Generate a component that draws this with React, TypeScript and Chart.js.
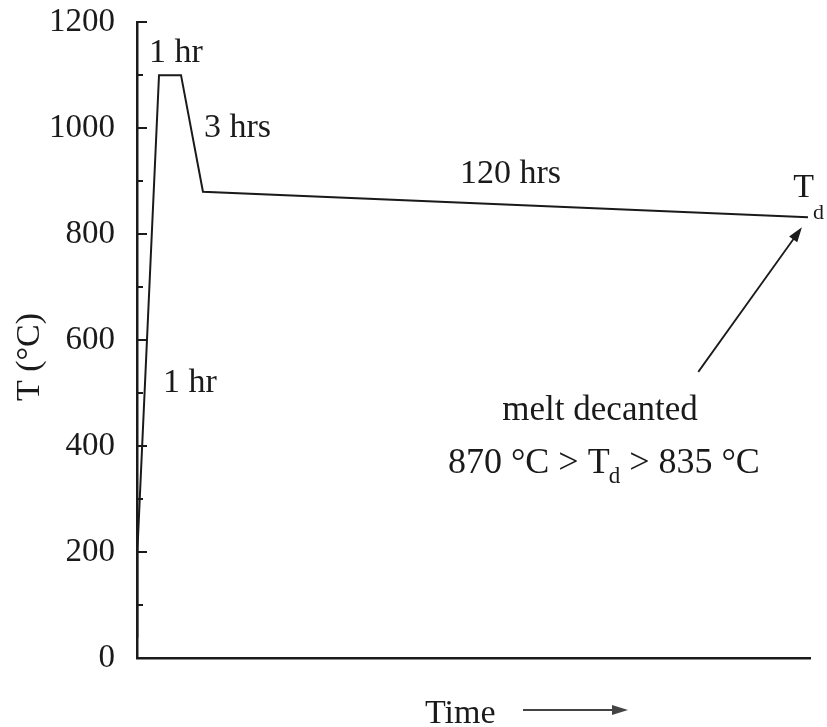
import React, { useEffect, useRef } from "react";
import { Chart, registerables } from "chart.js";

Chart.register(...registerables);

// Time axis in arbitrary units (0..100), temperature in °C
const timePoints = [0, 0.05, 3.27, 6.54, 9.8, 99.7];
const tempPoints = [40, 200, 1100, 1100, 880, 832];

const yMin = 0;
const yMax = 1200;
const yMajorStep = 200;
const yMinorStep = 100;
const xMin = 0;
const xMax = 100;

const FONT = "'Liberation Serif', 'Times New Roman', serif";
const INK = "#1a1a1a";

export default function App() {
  const ref = useRef<HTMLCanvasElement | null>(null);

  useEffect(() => {
    const canvas = ref.current;
    if (!canvas) return;

    const annotate = {
      id: "annotate",
      afterDraw(chart: any) {
        const ctx = chart.ctx as CanvasRenderingContext2D;
        const xs = chart.scales.x;
        const ys = chart.scales.y;
        const px = (v: number) => xs.getPixelForValue(v);
        const py = (v: number) => ys.getPixelForValue(v);
        const area = chart.chartArea;
        ctx.save();
        // inward ticks on y axis
        ctx.strokeStyle = INK;
        ctx.lineWidth = 2;
        for (let v = yMin; v <= yMax; v += yMinorStep) {
          const major = v % yMajorStep === 0;
          const y = Math.round(py(v));
          ctx.beginPath();
          ctx.moveTo(area.left, y);
          ctx.lineTo(area.left + (major ? 10 : 6), y);
          ctx.stroke();
        }

        ctx.fillStyle = INK;
        ctx.textBaseline = "alphabetic";
        ctx.textAlign = "left";
        ctx.font = `34px ${FONT}`;
        ctx.fillText("1 hr", px(1.78), py(1124));
        ctx.fillText("3 hrs", px(9.96), py(983));
        ctx.fillText("120 hrs", px(48.0), py(896));
        ctx.fillText("1 hr", px(3.86), py(502));

        // T_d label at end of line
        const tx = px(97.5);
        ctx.fillText("T", tx, py(870));
        const tw = ctx.measureText("T").width;
        ctx.font = `22px ${FONT}`;
        ctx.fillText("d", tx + tw - 1, py(870) + 22);

        // melt decanted
        ctx.font = `35px ${FONT}`;
        ctx.textAlign = "center";
        ctx.fillText("melt decanted", px(68.8), py(449));

        // 870 °C > Td > 835 °C
        ctx.textAlign = "left";
        let cx = px(46.2);
        const by = py(349);
        ctx.font = `36px ${FONT}`;
        const s1 = "870 °C > T";
        ctx.fillText(s1, cx, by);
        cx += ctx.measureText(s1).width;
        ctx.font = `23px ${FONT}`;
        ctx.fillText("d", cx - 1, by + 10);
        cx += ctx.measureText("d").width - 1;
        ctx.font = `36px ${FONT}`;
        ctx.fillText(" > 835 °C", cx, by);

        // arrow to T_d
        const ax0 = px(83.4), ay0 = py(540);
        const ax1 = px(98.8), ay1 = py(813);
        const ang = Math.atan2(ay1 - ay0, ax1 - ax0);
        const hl = 15, hw = 5;
        ctx.lineWidth = 1.8;
        ctx.beginPath();
        ctx.moveTo(ax0, ay0);
        ctx.lineTo(ax1 - Math.cos(ang) * hl * 0.8, ay1 - Math.sin(ang) * hl * 0.8);
        ctx.stroke();
        ctx.beginPath();
        ctx.moveTo(ax1, ay1);
        ctx.lineTo(ax1 - Math.cos(ang) * hl - Math.sin(ang) * hw, ay1 - Math.sin(ang) * hl + Math.cos(ang) * hw);
        ctx.lineTo(ax1 - Math.cos(ang) * hl + Math.sin(ang) * hw, ay1 - Math.sin(ang) * hl - Math.cos(ang) * hw);
        ctx.closePath();
        ctx.fill();

        // x axis title "Time" with arrow
        ctx.font = `34px ${FONT}`;
        ctx.textAlign = "left";
        ctx.fillText("Time", 425, 723);
        ctx.strokeStyle = "#444";
        ctx.fillStyle = "#444";
        ctx.lineWidth = 2;
        ctx.beginPath();
        ctx.moveTo(523, 710);
        ctx.lineTo(615, 710);
        ctx.stroke();
        ctx.beginPath();
        ctx.moveTo(628, 710);
        ctx.lineTo(612, 705);
        ctx.lineTo(612, 715);
        ctx.closePath();
        ctx.fill();

        // y axis title
        ctx.fillStyle = INK;
        ctx.translate(30, 357);
        ctx.rotate(-Math.PI / 2);
        ctx.textAlign = "center";
        ctx.textBaseline = "middle";
        ctx.font = `34px ${FONT}`;
        ctx.fillText("T (°C)", 0, 0);
        ctx.restore();
      },
    };

    const chart = new Chart(canvas, {
      type: "line",
      data: {
        datasets: [
          {
            data: timePoints.map((x, i) => ({ x, y: tempPoints[i] })),
            borderColor: INK,
            borderWidth: 2,
            pointRadius: 0,
            tension: 0,
            fill: false,
          },
        ],
      },
      options: {
        responsive: false,
        animation: false,
        layout: { padding: { top: 0, right: 17, left: 0, bottom: 0 } },
        plugins: { legend: { display: false }, tooltip: { enabled: false } },
        scales: {
          x: {
            type: "linear",
            min: xMin,
            max: xMax,
            grid: { display: false, drawTicks: false },
            ticks: { display: false },
            border: { display: true, color: INK, width: 2.5 },
            afterFit: (s: any) => {
              s.height = 69;
            },
          },
          y: {
            type: "linear",
            min: yMin,
            max: yMax,
            grid: { display: false, drawTicks: false },
            border: { display: true, color: INK, width: 2.5 },
            ticks: {
              stepSize: yMajorStep,
              color: INK,
              padding: 22,
              font: { family: FONT, size: 33, lineHeight: 0.01 },
              callback: (v: any) => String(v),
            },
            afterFit: (s: any) => {
              s.width = 137;
            },
          },
        },
      },
      plugins: [annotate],
    });

    return () => chart.destroy();
  }, []);

  return (
    <div style={{ position: "absolute", left: 0, top: 0, width: 827, height: 727, background: "#fff" }}>
      <canvas ref={ref} width={827} height={727} style={{ display: "block" }} />
    </div>
  );
}
